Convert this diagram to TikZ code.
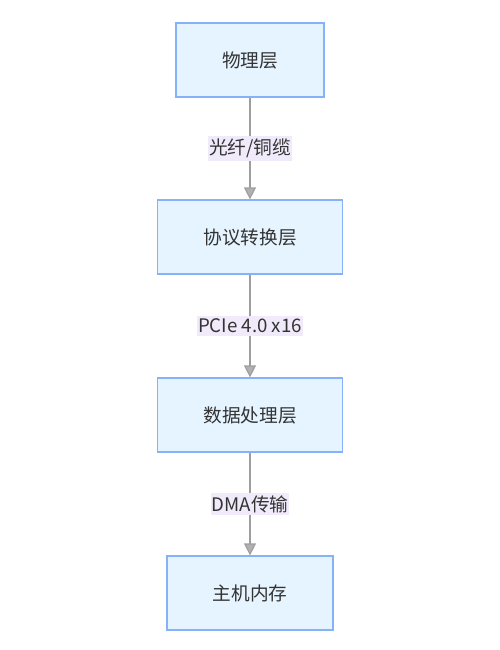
\documentclass[tikz,border=0pt]{standalone}
\usepackage{fontspec}
\setmainfont{Noto Sans CJK SC}
\usetikzlibrary{arrows.meta}
\definecolor{boxfill}{HTML}{E6F4FF}
\definecolor{boxdraw}{HTML}{86B2F7}
\definecolor{lblfill}{HTML}{F1EAFB}
\definecolor{linecol}{HTML}{9E9E9E}
\definecolor{txtcol}{HTML}{333333}
\tikzset{
  layer/.style={draw=boxdraw, line width=0.9pt, fill=boxfill, text=txtcol, font=\fontsize{14}{16}\selectfont, inner sep=0pt, minimum height=55.5pt},
  conn/.style={draw=linecol, line width=0.9pt, -{Triangle[length=9pt,width=9pt,fill=linecol!80]}},
  lbl/.style={fill=lblfill, text=txtcol, font=\fontsize{14}{16}\selectfont, inner xsep=0.5pt, inner ysep=2pt}
}
\begin{document}
\begin{tikzpicture}[x=0.75pt,y=-0.75pt]
\useasboundingbox (0,0) rectangle (500,650);
\node[layer, minimum width=111pt] (a) at (250,60) {物理层};
\node[layer, minimum width=138.75pt] (b) at (250,237) {协议转换层};
\node[layer, minimum width=138.75pt] (c) at (250,415) {数据处理层};
\node[layer, minimum width=124.5pt] (d) at (250,593) {主机内存};
\draw[conn] (a) -- node[lbl] {光纤/铜缆} (b);
\draw[conn] (b) -- node[lbl] {PCIe 4.0 x16} (c);
\draw[conn] (c) -- node[lbl] {DMA传输} (d);
\end{tikzpicture}
\end{document}
